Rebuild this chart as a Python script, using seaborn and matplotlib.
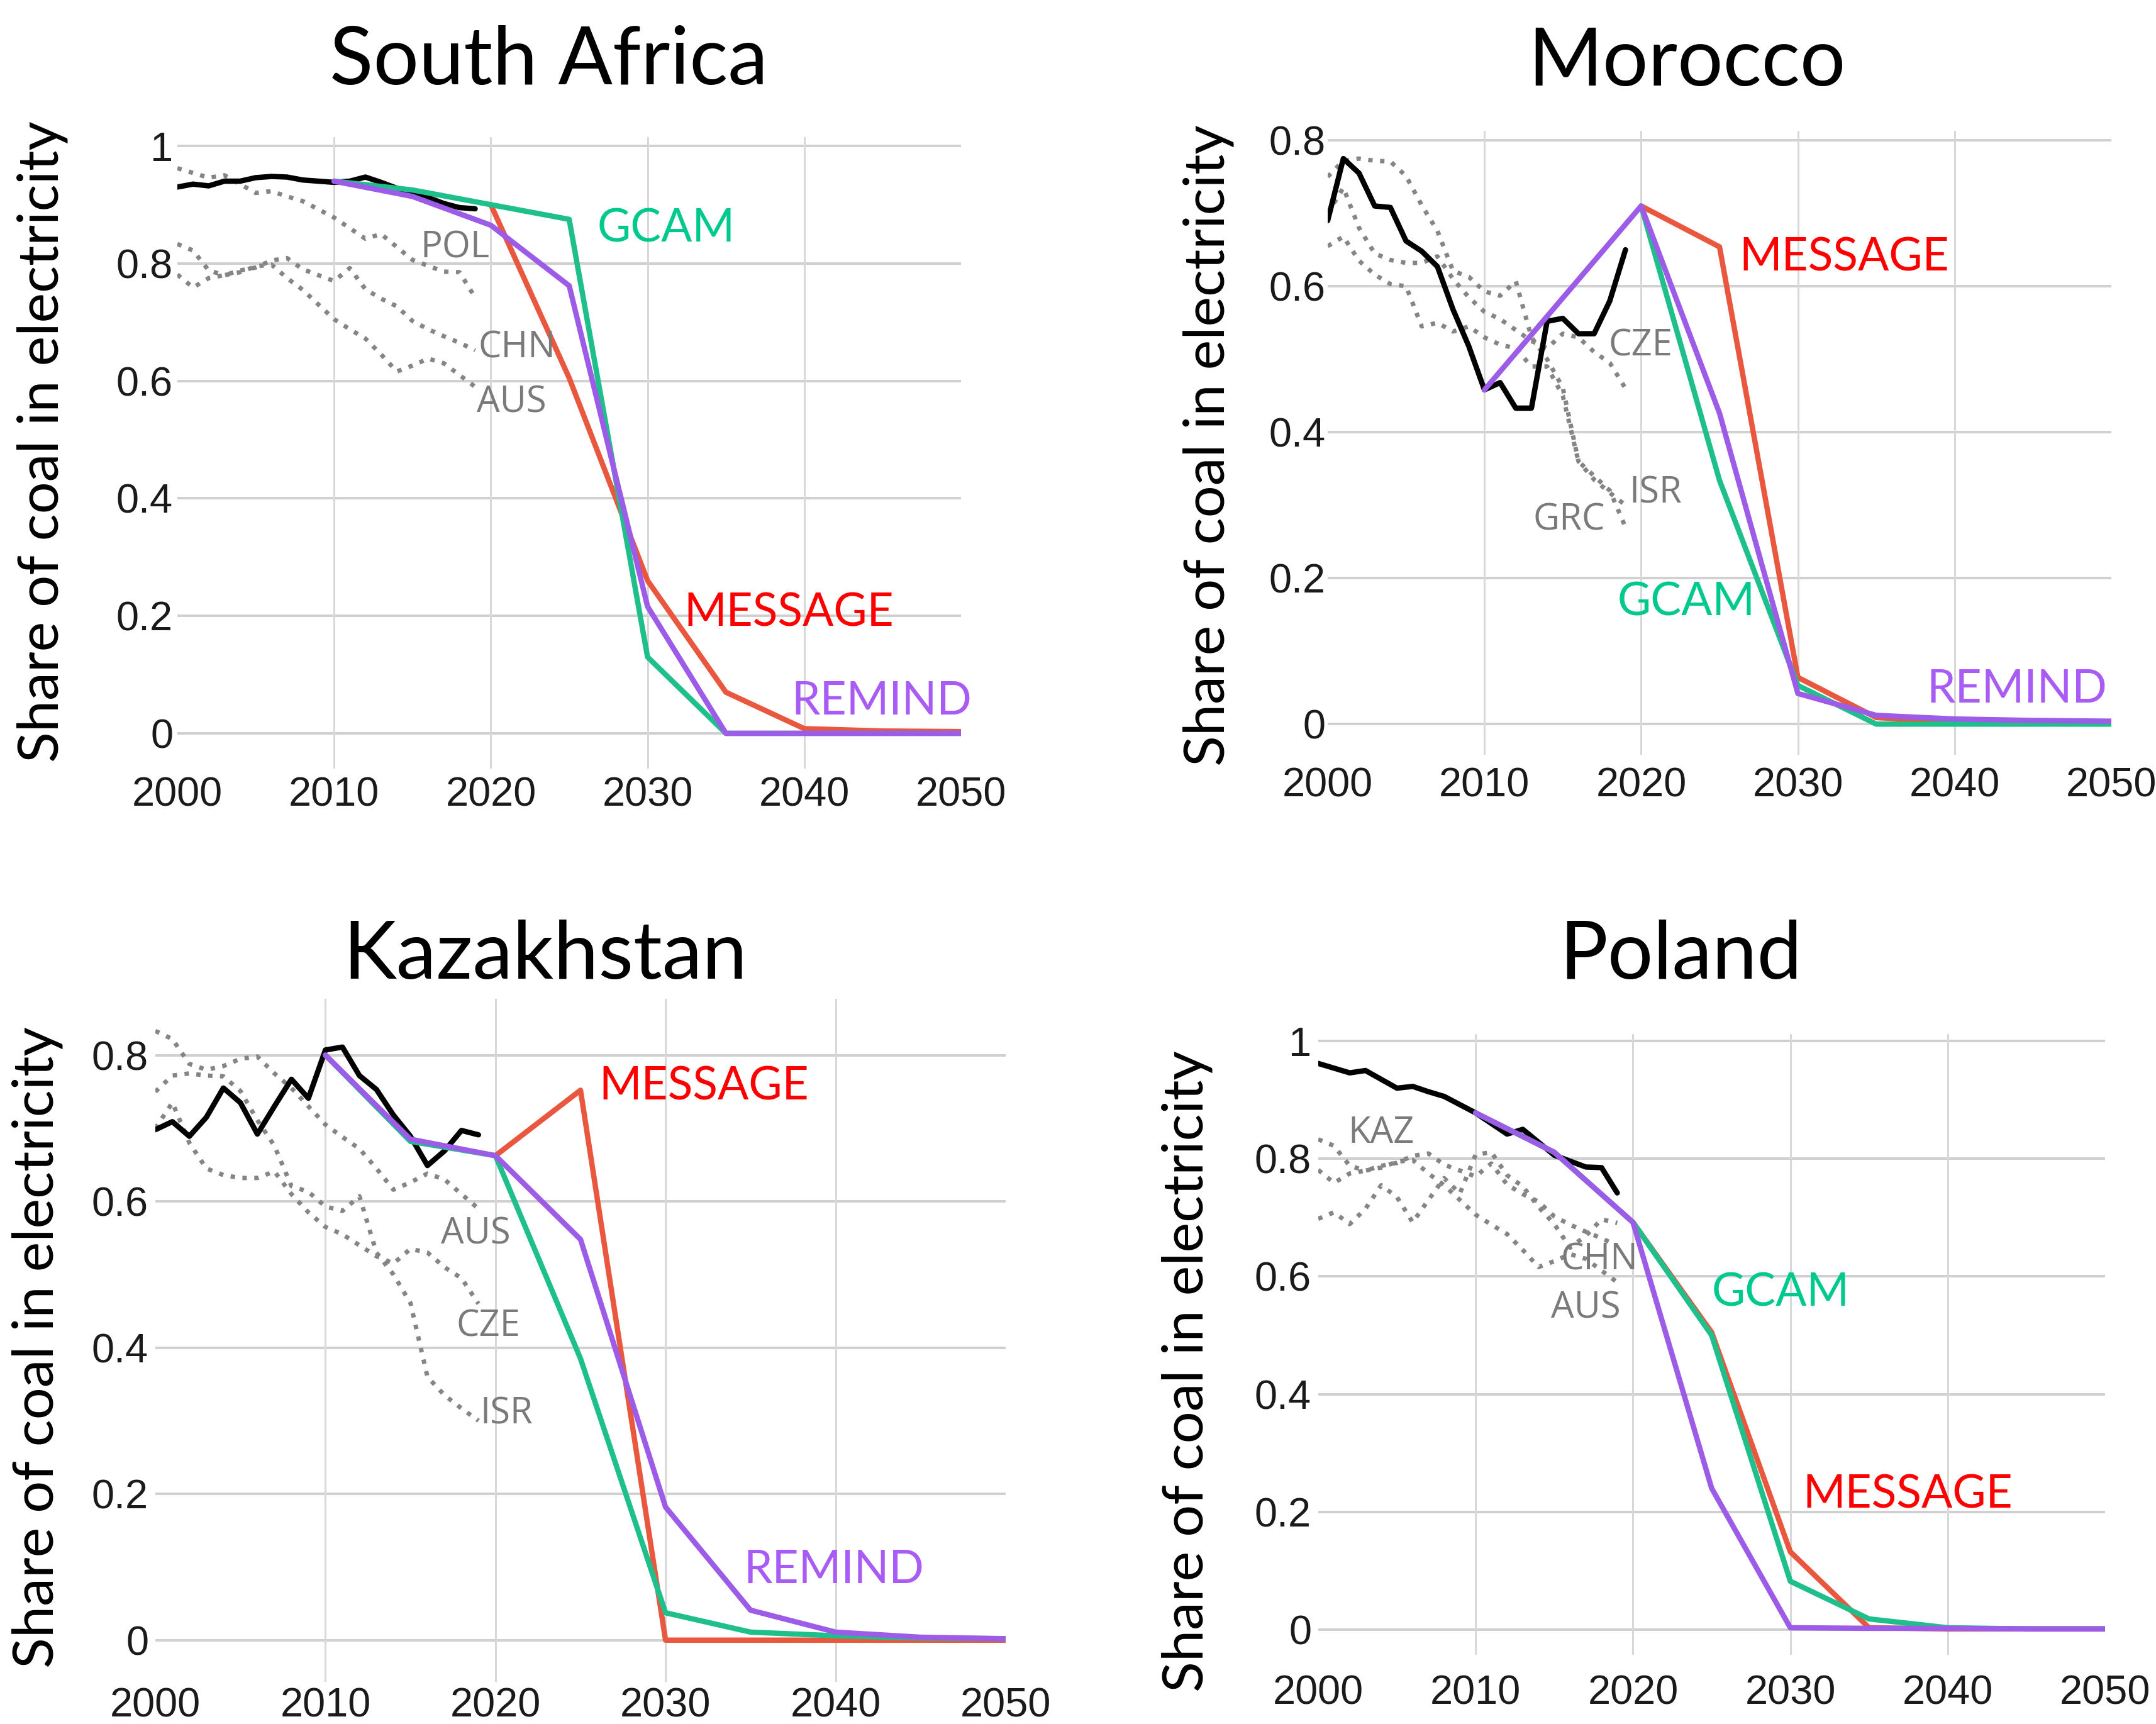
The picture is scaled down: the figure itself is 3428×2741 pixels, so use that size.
import numpy as np
import pandas as pd
import matplotlib
matplotlib.use("Agg")
import matplotlib.pyplot as plt
import seaborn as sns

nan = np.nan

# ---------------- data ----------------
hist_years = list(range(2000, 2020))
model_years = [2010, 2015, 2020, 2025, 2030, 2035, 2040, 2045, 2050]

# historical share of coal in electricity (2000-2019)
ZAF = [0.930, 0.935, 0.932, 0.940, 0.940, 0.946, 0.948, 0.947, 0.942, 0.940,
       0.938, 0.940, 0.947, 0.938, 0.928, 0.918, 0.912, 0.902, 0.895, 0.893]
MAR = [0.690, 0.775, 0.755, 0.710, 0.708, 0.662, 0.648, 0.627, 0.568, 0.518,
       0.458, 0.468, 0.433, 0.433, 0.552, 0.556, 0.535, 0.535, 0.580, 0.650]
KAZ = [0.698, 0.709, 0.689, 0.715, 0.755, 0.735, 0.692, 0.730, 0.767, 0.741,
       0.807, 0.811, 0.772, 0.753, 0.718, 0.689, 0.649, 0.669, 0.697, 0.691]
POL = [0.962, 0.954, 0.946, 0.950, 0.935, 0.920, 0.923, 0.914, 0.906, 0.892,
       0.878, 0.860, 0.842, 0.850, 0.828, 0.806, 0.796, 0.786, 0.785, 0.742]
CHN = [0.781, 0.759, 0.775, 0.780, 0.788, 0.793, 0.805, 0.809, 0.790, 0.780,
       0.770, 0.792, 0.756, 0.740, 0.727, 0.702, 0.688, 0.676, 0.665, 0.652]
AUS = [0.833, 0.822, 0.788, 0.780, 0.785, 0.795, 0.798, 0.775, 0.755, 0.730,
       0.705, 0.688, 0.672, 0.645, 0.616, 0.626, 0.638, 0.630, 0.610, 0.590]
CZE = [0.700, 0.735, 0.680, 0.645, 0.636, 0.632, 0.632, 0.641, 0.610, 0.585,
       0.565, 0.555, 0.540, 0.525, 0.515, 0.535, 0.530, 0.510, 0.495, 0.460]
ISR = [0.750, 0.772, 0.775, 0.772, 0.771, 0.751, 0.711, 0.676, 0.621, 0.613,
       0.593, 0.587, 0.607, 0.530, 0.500, 0.461, 0.360, 0.335, 0.317, 0.300]
GRC = [0.655, 0.668, 0.635, 0.616, 0.603, 0.600, 0.545, 0.550, 0.538, 0.545,
       0.530, 0.520, 0.515, 0.490, 0.490, 0.450, 0.360, 0.340, 0.320, 0.270]

history = {"ZAF": ZAF, "MAR": MAR, "KAZ": KAZ, "POL": POL, "CHN": CHN,
           "AUS": AUS, "CZE": CZE, "ISR": ISR, "GRC": GRC}

# model pathways (2010-2050, 5-year steps)
GCAM_ZAF = [0.940, 0.925, 0.900, 0.875, 0.130, 0.0, 0.0, 0.0, 0.0]
MESSAGE_ZAF = [nan, nan, 0.900, 0.605, 0.260, 0.070, 0.008, 0.004, 0.003]
REMIND_ZAF = [0.940, 0.914, 0.865, 0.762, 0.216, 0.0, 0.0, 0.0, 0.0]

GCAM_MAR = [nan, nan, 0.710, 0.334, 0.053, 0.0, 0.0, 0.0, 0.0]
MESSAGE_MAR = [nan, nan, 0.710, 0.654, 0.064, 0.009, 0.003, 0.002, 0.002]
REMIND_MAR = [0.458, 0.584, 0.710, 0.426, 0.042, 0.012, 0.007, 0.005, 0.004]

GCAM_KAZ = [0.800, 0.682, 0.6625, 0.385, 0.0375, 0.011, 0.006, 0.003, 0.002]
MESSAGE_KAZ = [nan, nan, 0.6625, 0.752, 0.0, 0.0, 0.0, 0.0, 0.0]
REMIND_KAZ = [0.800, 0.685, 0.6625, 0.548, 0.182, 0.041, 0.011, 0.004, 0.002]

GCAM_POL = [0.878, 0.811, 0.692, 0.500, 0.082, 0.018, 0.003, 0.001, 0.001]
MESSAGE_POL = [nan, nan, 0.692, 0.505, 0.132, 0.003, 0.001, 0.001, 0.001]
REMIND_POL = [0.878, 0.811, 0.692, 0.240, 0.003, 0.002, 0.002, 0.001, 0.001]

x_ticks = [2000, 2010, 2020, 2030, 2040, 2050]

# ---------------- style ----------------
W, H = 3428, 2741
DPI = 72
sns.set_theme(style="white")
plt.rcParams["font.family"] = ["Lato", "DejaVu Sans"]

line_col = {"GCAM": "#1fbf8c", "MESSAGE": "#e9573f", "REMIND": "#9d5ce8"}
label_col = {"GCAM": "#00c98d", "MESSAGE": "#ff0000", "REMIND": "#a85cf5"}
peer_col = "#858585"
grid_col = "#d0d0d0"

panels = [
    dict(title="South Africa", hist="ZAF", peers=["POL", "CHN", "AUS"],
         models={"MESSAGE": MESSAGE_ZAF, "GCAM": GCAM_ZAF, "REMIND": REMIND_ZAF},
         yticks=[0, 0.2, 0.4, 0.6, 0.8, 1.0], ylim=(-0.06, 1.015),
         box=(282, 218, 1528, 1222), xpad=13, ypad=7,
         title_xy=(873, 98), ylabel_xy=(68, 702),
         mlabels={"GCAM": (2026.8, 0.859), "MESSAGE": (2032.3, 0.204), "REMIND": (2039.2, 0.054)},
         plabels={"POL": (2015.5, 0.826), "CHN": (2019.2, 0.656), "AUS": (2019.1, 0.563)}),
    dict(title="Morocco", hist="MAR", peers=["CZE", "ISR", "GRC"],
         models={"MESSAGE": MESSAGE_MAR, "GCAM": GCAM_MAR, "REMIND": REMIND_MAR},
         yticks=[0, 0.2, 0.4, 0.6, 0.8], ylim=(-0.042, 0.813),
         box=(2111, 208, 3357, 1200), xpad=20, ypad=3,
         title_xy=(2682, 100), ylabel_xy=(1922, 708),
         mlabels={"MESSAGE": (2026.25, 0.639), "GCAM": (2018.5, 0.167), "REMIND": (2038.2, 0.047)},
         plabels={"CZE": (2017.9, 0.518), "ISR": (2019.25, 0.316), "GRC": (2013.1, 0.279)}),
    dict(title="Kazakhstan", hist="KAZ", peers=["AUS", "CZE", "ISR"],
         models={"MESSAGE": MESSAGE_KAZ, "GCAM": GCAM_KAZ, "REMIND": REMIND_KAZ},
         yticks=[0, 0.2, 0.4, 0.6, 0.8], ylim=(-0.057, 0.877),
         box=(247, 1588, 1599, 2674), xpad=9, ypad=11,
         title_xy=(867, 1520), ylabel_xy=(60, 2142),
         mlabels={"MESSAGE": (2026.1, 0.757), "REMIND": (2034.6, 0.096)},
         plabels={"AUS": (2016.8, 0.555), "CZE": (2017.7, 0.429), "ISR": (2019.1, 0.309)}),
    dict(title="Poland", hist="POL", peers=["KAZ", "CHN", "AUS"],
         models={"MESSAGE": MESSAGE_POL, "GCAM": GCAM_POL, "REMIND": REMIND_POL},
         yticks=[0, 0.2, 0.4, 0.6, 0.8, 1.0], ylim=(-0.043, 1.012),
         box=(2096, 1644, 3347, 2631), xpad=31, ypad=11,
         title_xy=(2672, 1520), ylabel_xy=(1888, 2180),
         mlabels={"GCAM": (2025.0, 0.572), "MESSAGE": (2030.8, 0.228)},
         plabels={"KAZ": (2001.9, 0.843), "CHN": (2015.4, 0.628), "AUS": (2014.8, 0.546)}),
]


def fmt(v):
    s = f"{v:.1f}"
    return s[:-2] if s.endswith(".0") else s


fig = plt.figure(figsize=(W / DPI, H / DPI), dpi=DPI)
fig.patch.set_facecolor("white")

for p in panels:
    l, t, r, b = p["box"]
    ax = fig.add_axes([l / W, 1 - b / H, (r - l) / W, (b - t) / H])
    ax.set_facecolor("white")

    # peers (dotted grey)
    for c in p["peers"]:
        sns.lineplot(x=hist_years, y=history[c], ax=ax, color=peer_col,
                     linewidth=7, linestyle=(0, (1.0, 1.7)), zorder=2,
                     legend=False)
    # own history (black)
    sns.lineplot(x=hist_years, y=history[p["hist"]], ax=ax, color="black",
                 linewidth=8.5, zorder=3, legend=False)
    # model pathways
    for i, (m, vals) in enumerate(p["models"].items()):
        df = pd.DataFrame({"year": model_years, "share": vals}).dropna()
        sns.lineplot(data=df, x="year", y="share", ax=ax, color=line_col[m],
                     linewidth=8.5, zorder=4 + i, legend=False)

    ax.set_xlim(2000, 2050)
    ax.set_ylim(*p["ylim"])
    ax.set_xticks(x_ticks)
    ax.set_xticklabels([str(x) for x in x_ticks])
    ax.set_yticks(p["yticks"])
    ax.set_yticklabels([fmt(v) for v in p["yticks"]])
    ax.grid(False)
    for yv in p["yticks"]:
        ax.axhline(yv, color=grid_col, linewidth=4, zorder=0)
    for xv in x_ticks[1:-1]:
        ax.axvline(xv, color="#d8d8d8", linewidth=3, zorder=0)
    for s in ax.spines.values():
        s.set_visible(False)
    ax.tick_params(axis="both", length=0, labelsize=65, colors="#1a1a1a")
    ax.tick_params(axis="x", pad=p["xpad"])
    ax.tick_params(axis="y", pad=p["ypad"])
    for lab in ax.get_xticklabels() + ax.get_yticklabels():
        lab.set_family(["Liberation Sans", "DejaVu Sans"])
    ax.set_xlabel("")
    ax.set_ylabel("")

    for m, (xx, yy) in p["mlabels"].items():
        ax.text(xx, yy, m, color=label_col[m], fontsize=73, ha="left",
                va="center", family=["Lato", "DejaVu Sans"], zorder=10)
    for c, (xx, yy) in p["plabels"].items():
        ax.text(xx, yy, c, color="#7a7a7a", fontsize=58, ha="left",
                va="center", family=["Open Sans", "DejaVu Sans"], zorder=10)

    tx, ty = p["title_xy"]
    fig.text(tx / W, 1 - ty / H, p["title"], ha="center", va="center",
             fontsize=128, color="black", family=["Lato", "DejaVu Sans"])
    lx, ly = p["ylabel_xy"]
    fig.text(lx / W, 1 - ly / H, "Share of coal in electricity", rotation=90,
             ha="center", va="center", fontsize=90, color="black",
             family=["Lato", "DejaVu Sans"])

fig.savefig("out.png", dpi=DPI, facecolor="white")
